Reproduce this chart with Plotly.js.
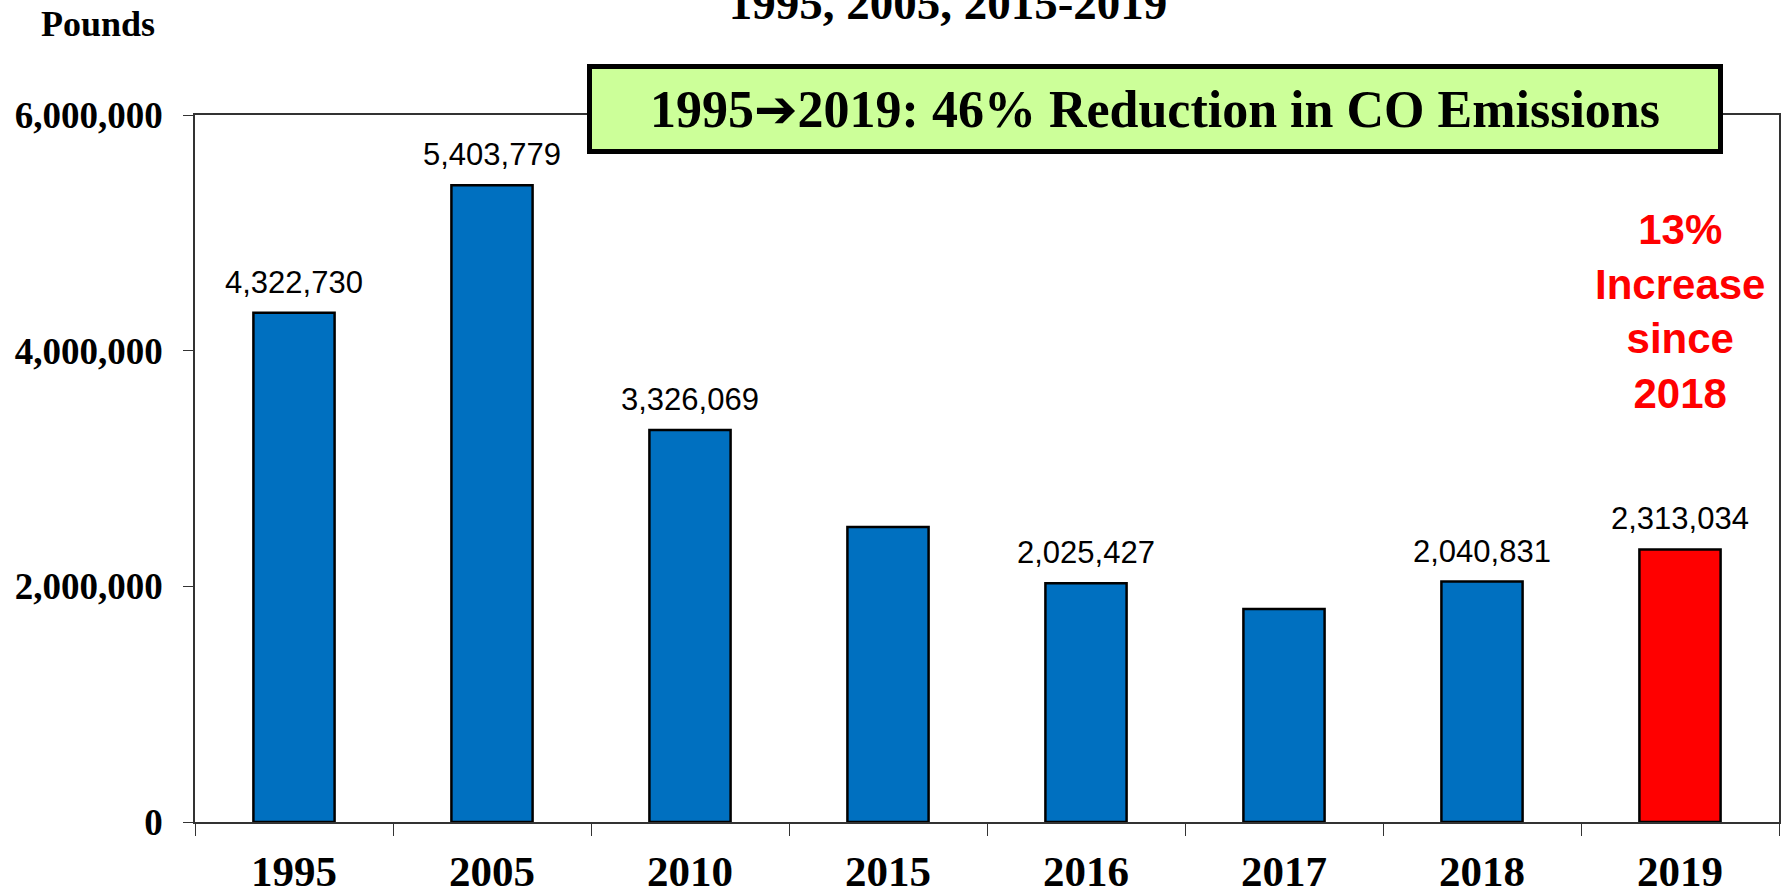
<!DOCTYPE html>
<html>
<head>
<meta charset="utf-8">
<script src="https://cdn.plot.ly/plotly-3.0.1.min.js"></script>
<style>html,body{margin:0;padding:0;background:#fff;}#chart{width:1785px;height:890px;}</style>
</head>
<body>
<div id="chart"></div>
<script>
// ---- data ----
const years = ['1995', '2005', '2010', '2015', '2016', '2017', '2018', '2019'];
const emissions = [4322730, 5403779, 3326069, 2503000, 2025427, 1808000, 2040831, 2313034];
const labeled = [true, true, true, false, true, false, true, true];
const barColors = ['#0070C0', '#0070C0', '#0070C0', '#0070C0', '#0070C0', '#0070C0', '#0070C0', '#FF0000'];
const yTicks = [0, 2000000, 4000000, 6000000];
const titleText = '1995, 2005, 2015-2019';
const unitText = 'Pounds';
const boxText = '1995<span style="font-family:DejaVu Sans">\u2794</span>2019: 46% Reduction in CO Emissions';
const noteText = '13%<br>Increase<br>since<br>2018';

const serif = 'Liberation Serif, Times New Roman, serif';
const sans = 'Liberation Sans, Arial, sans-serif';

const trace = {
  type: 'bar',
  x: years,
  y: emissions,
  marker: { color: barColors, line: { color: '#000000', width: 2.5 } },
  hoverinfo: 'x+y'
};

const fmt = v => v.toLocaleString('en-US');

const annotations = [];
years.forEach((yr, i) => {
  if (!labeled[i]) return;
  annotations.push({
    x: i, y: emissions[i], xref: 'x', yref: 'y',
    text: fmt(emissions[i]), showarrow: false,
    xanchor: 'center', yanchor: 'bottom', yshift: 11,
    font: { family: sans, size: 31, color: '#000000' }
  });
});

annotations.push({
  x: 0.606, y: 1.0085, xref: 'paper', yref: 'paper',
  text: boxText, showarrow: false, xanchor: 'center', yanchor: 'middle',
  width: 1126, height: 80, borderpad: 0,
  bgcolor: '#CCFF99', bordercolor: '#000000', borderwidth: 5,
  font: { family: serif, size: 52, color: '#000000', weight: 'bold' }
});

annotations.push({
  x: years.indexOf('2019'), y: 4330000, xref: 'x', yref: 'y',
  text: noteText, showarrow: false, xanchor: 'center', yanchor: 'middle',
  font: { family: sans, size: 42, color: '#FF0000', weight: 'bold' }
});

annotations.push({
  x: -0.061, y: 1.129, xref: 'paper', yref: 'paper',
  text: unitText, showarrow: false, xanchor: 'center', yanchor: 'middle',
  font: { family: serif, size: 36, color: '#000000', weight: 'bold' }
});

const layout = {
  width: 1785, height: 890,
  margin: { l: 195, r: 6, t: 115, b: 68, pad: 0 },
  paper_bgcolor: '#ffffff', plot_bgcolor: '#ffffff',
  showlegend: false,
  bargap: 0.59,
  title: {
    text: titleText,
    x: 948 / 1785, xref: 'container', xanchor: 'center',
    y: 1 - 19 / 890, yref: 'container', yanchor: 'bottom',
    font: { family: serif, size: 47, color: '#000000', weight: 'bold' }
  },
  xaxis: {
    type: 'category',
    categoryorder: 'array', categoryarray: years,
    range: [-0.5, years.length - 0.5],
    showline: true, linecolor: '#333333', linewidth: 1.5, mirror: true,
    ticks: 'outside', ticklen: 12, tickcolor: '#333333', tickwidth: 1,
    tickson: 'boundaries',
    showgrid: false, zeroline: false,
    ticklabelstandoff: 11,
    tickfont: { family: serif, size: 43, color: '#000000', weight: 'bold' }
  },
  yaxis: {
    range: [0, 6000000],
    tickvals: yTicks,
    tickformat: ',d',
    showline: true, linecolor: '#333333', linewidth: 1.5, mirror: true,
    ticks: 'outside', ticklen: 10, tickcolor: '#333333', tickwidth: 1,
    showgrid: false, zeroline: false,
    ticklabelstandoff: 13,
    tickfont: { family: serif, size: 37, color: '#000000', weight: 'bold' }
  },
  annotations: annotations
};

Plotly.newPlot('chart', [trace], layout, { displayModeBar: false, staticPlot: false });
</script>
</body>
</html>
